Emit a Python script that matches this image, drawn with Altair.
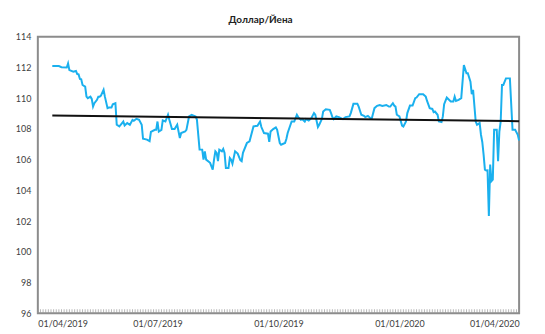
import altair as alt
import pandas as pd

dates = [
    "2019-04-12", "2019-04-17", "2019-04-19", "2019-04-23", "2019-04-24", "2019-04-25", "2019-04-28", "2019-04-30",
    "2019-05-01", "2019-05-02", "2019-05-03", "2019-05-04", "2019-05-05", "2019-05-07", "2019-05-08", "2019-05-09",
    "2019-05-11", "2019-05-12", "2019-05-13", "2019-05-14", "2019-05-16", "2019-05-17", "2019-05-18", "2019-05-19",
    "2019-05-21", "2019-05-22", "2019-05-24", "2019-05-25", "2019-05-27", "2019-05-28", "2019-05-30", "2019-05-31",
    "2019-06-02", "2019-06-03", "2019-06-05", "2019-06-06", "2019-06-08", "2019-06-10", "2019-06-12", "2019-06-13",
    "2019-06-15", "2019-06-17", "2019-06-19", "2019-06-20", "2019-06-23", "2019-06-25", "2019-06-26", "2019-06-29",
    "2019-06-30", "2019-07-01", "2019-07-02", "2019-07-04", "2019-07-05", "2019-07-07", "2019-07-09", "2019-07-10",
    "2019-07-12", "2019-07-14", "2019-07-16", "2019-07-18", "2019-07-19", "2019-07-22", "2019-07-23", "2019-07-25",
    "2019-07-27", "2019-07-30", "2019-07-31", "2019-08-02", "2019-08-04", "2019-08-05", "2019-08-06", "2019-08-07",
    "2019-08-10", "2019-08-12", "2019-08-13", "2019-08-14", "2019-08-15", "2019-08-16", "2019-08-17", "2019-08-19",
    "2019-08-20", "2019-08-21", "2019-08-22", "2019-08-24", "2019-08-25", "2019-08-26", "2019-08-27", "2019-08-29",
    "2019-08-31", "2019-09-02", "2019-09-03", "2019-09-04", "2019-09-07", "2019-09-09", "2019-09-12", "2019-09-15",
    "2019-09-17", "2019-09-18", "2019-09-20", "2019-09-23", "2019-09-24", "2019-09-25", "2019-09-27", "2019-09-29",
    "2019-09-30", "2019-10-02", "2019-10-03", "2019-10-06", "2019-10-07", "2019-10-08", "2019-10-11", "2019-10-13",
    "2019-10-15", "2019-10-16", "2019-10-18", "2019-10-19", "2019-10-21", "2019-10-22", "2019-10-24", "2019-10-26",
    "2019-10-28", "2019-10-29", "2019-10-31", "2019-11-01", "2019-11-03", "2019-11-04", "2019-11-06", "2019-11-09",
    "2019-11-10", "2019-11-11", "2019-11-12", "2019-11-14", "2019-11-16", "2019-11-19", "2019-11-21", "2019-11-24",
    "2019-11-25", "2019-11-27", "2019-11-30", "2019-12-01", "2019-12-03", "2019-12-05", "2019-12-06", "2019-12-08",
    "2019-12-10", "2019-12-11", "2019-12-13", "2019-12-15", "2019-12-17", "2019-12-19", "2019-12-22", "2019-12-24",
    "2019-12-25", "2019-12-27", "2019-12-28", "2019-12-29", "2019-12-30", "2020-01-01", "2020-01-03", "2020-01-04",
    "2020-01-06", "2020-01-07", "2020-01-09", "2020-01-11", "2020-01-13", "2020-01-14", "2020-01-16", "2020-01-19",
    "2020-01-21", "2020-01-22", "2020-01-24", "2020-01-26", "2020-01-27", "2020-01-28", "2020-01-30", "2020-01-31",
    "2020-02-02", "2020-02-03", "2020-02-04", "2020-02-06", "2020-02-09", "2020-02-11", "2020-02-12", "2020-02-13",
    "2020-02-15", "2020-02-17", "2020-02-19", "2020-02-21", "2020-02-22", "2020-02-24", "2020-02-25", "2020-02-26",
    "2020-02-28", "2020-02-29", "2020-03-02", "2020-03-03", "2020-03-04", "2020-03-05", "2020-03-06", "2020-03-07",
    "2020-03-08", "2020-03-09", "2020-03-10", "2020-03-11", "2020-03-12", "2020-03-13", "2020-03-15", "2020-03-16",
    "2020-03-17", "2020-03-18", "2020-03-19", "2020-03-20", "2020-03-22", "2020-03-25", "2020-03-27", "2020-03-29",
    "2020-03-31", "2020-04-01",
]

rates = [
    112.10, 112.09, 112.02, 112.00, 112.26, 111.83, 111.72, 111.77,
    111.57, 111.55, 111.25, 111.23, 110.86, 110.75, 110.10, 110.00,
    110.10, 109.95, 109.45, 109.67, 109.89, 110.10, 110.10, 110.17,
    110.55, 110.10, 109.35, 109.39, 109.39, 109.60, 109.67, 108.27,
    108.16, 108.27, 108.48, 108.22, 108.38, 108.27, 108.59, 108.53,
    108.66, 108.59, 108.27, 107.36, 107.30, 107.20, 107.80, 107.94,
    107.94, 108.48, 107.83, 107.94, 108.55, 108.48, 108.92, 108.59,
    107.99, 107.99, 108.27, 107.40, 107.73, 107.83, 107.94, 108.81,
    108.92, 108.81, 108.59, 106.65, 106.65, 106.00, 106.54, 106.00,
    105.79, 105.35, 106.00, 106.54, 106.44, 105.90, 106.65, 106.54,
    106.69, 106.44, 105.46, 105.46, 106.11, 106.00, 105.74, 106.54,
    106.39, 105.96, 105.90, 106.44, 107.08, 107.19, 108.16, 108.20,
    108.48, 108.12, 107.73, 107.69, 107.15, 107.83, 107.99, 108.10,
    107.94, 107.08, 106.97, 107.08, 107.34, 107.73, 108.48, 108.48,
    108.92, 108.77, 108.59, 108.64, 108.48, 108.64, 108.55, 108.70,
    109.03, 108.92, 108.12, 108.27, 108.64, 109.13, 109.28, 109.24,
    109.03, 108.77, 108.64, 108.81, 108.77, 108.64, 108.77, 108.81,
    109.03, 109.63, 109.63, 109.45, 108.92, 108.85, 108.77, 108.85,
    108.70, 108.70, 109.35, 109.50, 109.56, 109.50, 109.56, 109.45,
    109.45, 109.67, 109.52, 109.45, 108.92, 108.81, 108.22, 108.16,
    108.48, 109.03, 109.52, 109.52, 110.00, 110.04, 110.26, 110.26,
    110.10, 109.82, 109.35, 109.30, 109.09, 109.13, 108.92, 108.48,
    108.44, 108.81, 109.61, 110.04, 109.78, 109.78, 110.10, 109.82,
    109.89, 110.00, 112.15, 111.62, 111.62, 111.07, 110.26, 110.54,
    108.48, 108.27, 108.38, 107.62, 107.15, 106.33, 105.35, 105.29,
    105.30, 102.33, 105.68, 104.60, 104.70, 107.94, 107.94, 105.90,
    107.83, 108.48, 110.86, 110.86, 111.29, 111.29, 107.94, 107.94,
    107.62, 107.25,
]

trend_dates = ["2019-04-12", "2020-04-01"]
trend_values = [108.88, 108.50]

x_labels = [(2019, 4), (2019, 7), (2019, 10), (2020, 1), (2020, 4)]
y_ticks = [96, 98, 100, 102, 104, 106, 108, 110, 112, 114]

FONT = "Lato"
df = pd.DataFrame({"date": pd.to_datetime(dates), "rate": rates})
tdf = pd.DataFrame({"date": pd.to_datetime(trend_dates), "rate": trend_values})
tick_df = pd.DataFrame({"date": pd.date_range("2019-04-01", "2020-04-01", freq="2D")})

x_scale = alt.Scale(
    domain=[alt.DateTime(year=2019, month=4, date=1), alt.DateTime(year=2020, month=4, date=1)],
    nice=False,
)
y_scale = alt.Scale(domain=[96, 114], nice=False, zero=False)

x_axis = alt.Axis(
    values=[alt.DateTime(year=y, month=m, date=1) for y, m in x_labels],
    format="%d/%m/%Y", labelFontSize=9, labelFont=FONT, labelColor="#404040",
    ticks=False, domain=False, grid=False, title=None, labelPadding=6,
    labelOverlap=False,
)
y_axis = alt.Axis(
    values=y_ticks, labelFontSize=9, labelFont=FONT, labelColor="#404040",
    ticks=False, domain=False, grid=False, title=None, labelPadding=7,
    labelOverlap=False,
)

line = alt.Chart(df).mark_line(color="#1AB0EE", strokeWidth=2).encode(
    x=alt.X("date:T", scale=x_scale, axis=x_axis),
    y=alt.Y("rate:Q", scale=y_scale, axis=y_axis),
)

trend = alt.Chart(tdf).mark_line(color="#111111", strokeWidth=2).encode(
    x=alt.X("date:T", scale=x_scale, axis=x_axis),
    y=alt.Y("rate:Q", scale=y_scale, axis=y_axis),
)

ticks = alt.Chart(tick_df).mark_tick(color="#9a9a9a", thickness=1, size=4, orient="vertical").encode(
    x=alt.X("date:T", scale=x_scale, axis=x_axis),
    y=alt.value(276),
)

chart = alt.layer(line, trend, ticks).properties(
    width=484, height=278,
    title=alt.TitleParams("Доллар/Йена", font=FONT, fontSize=10, fontWeight="bold",
                          color="#222222", anchor="middle", dx=-18, offset=8),
).configure(
    background="white",
    padding={"left": 7, "top": 6, "right": 14, "bottom": 2},
).configure_view(
    stroke="#8c8c8c", strokeWidth=2
).configure_axis(labelOverlap=False)

chart.save("out.html", embed_options={"renderer": "svg", "actions": False})
